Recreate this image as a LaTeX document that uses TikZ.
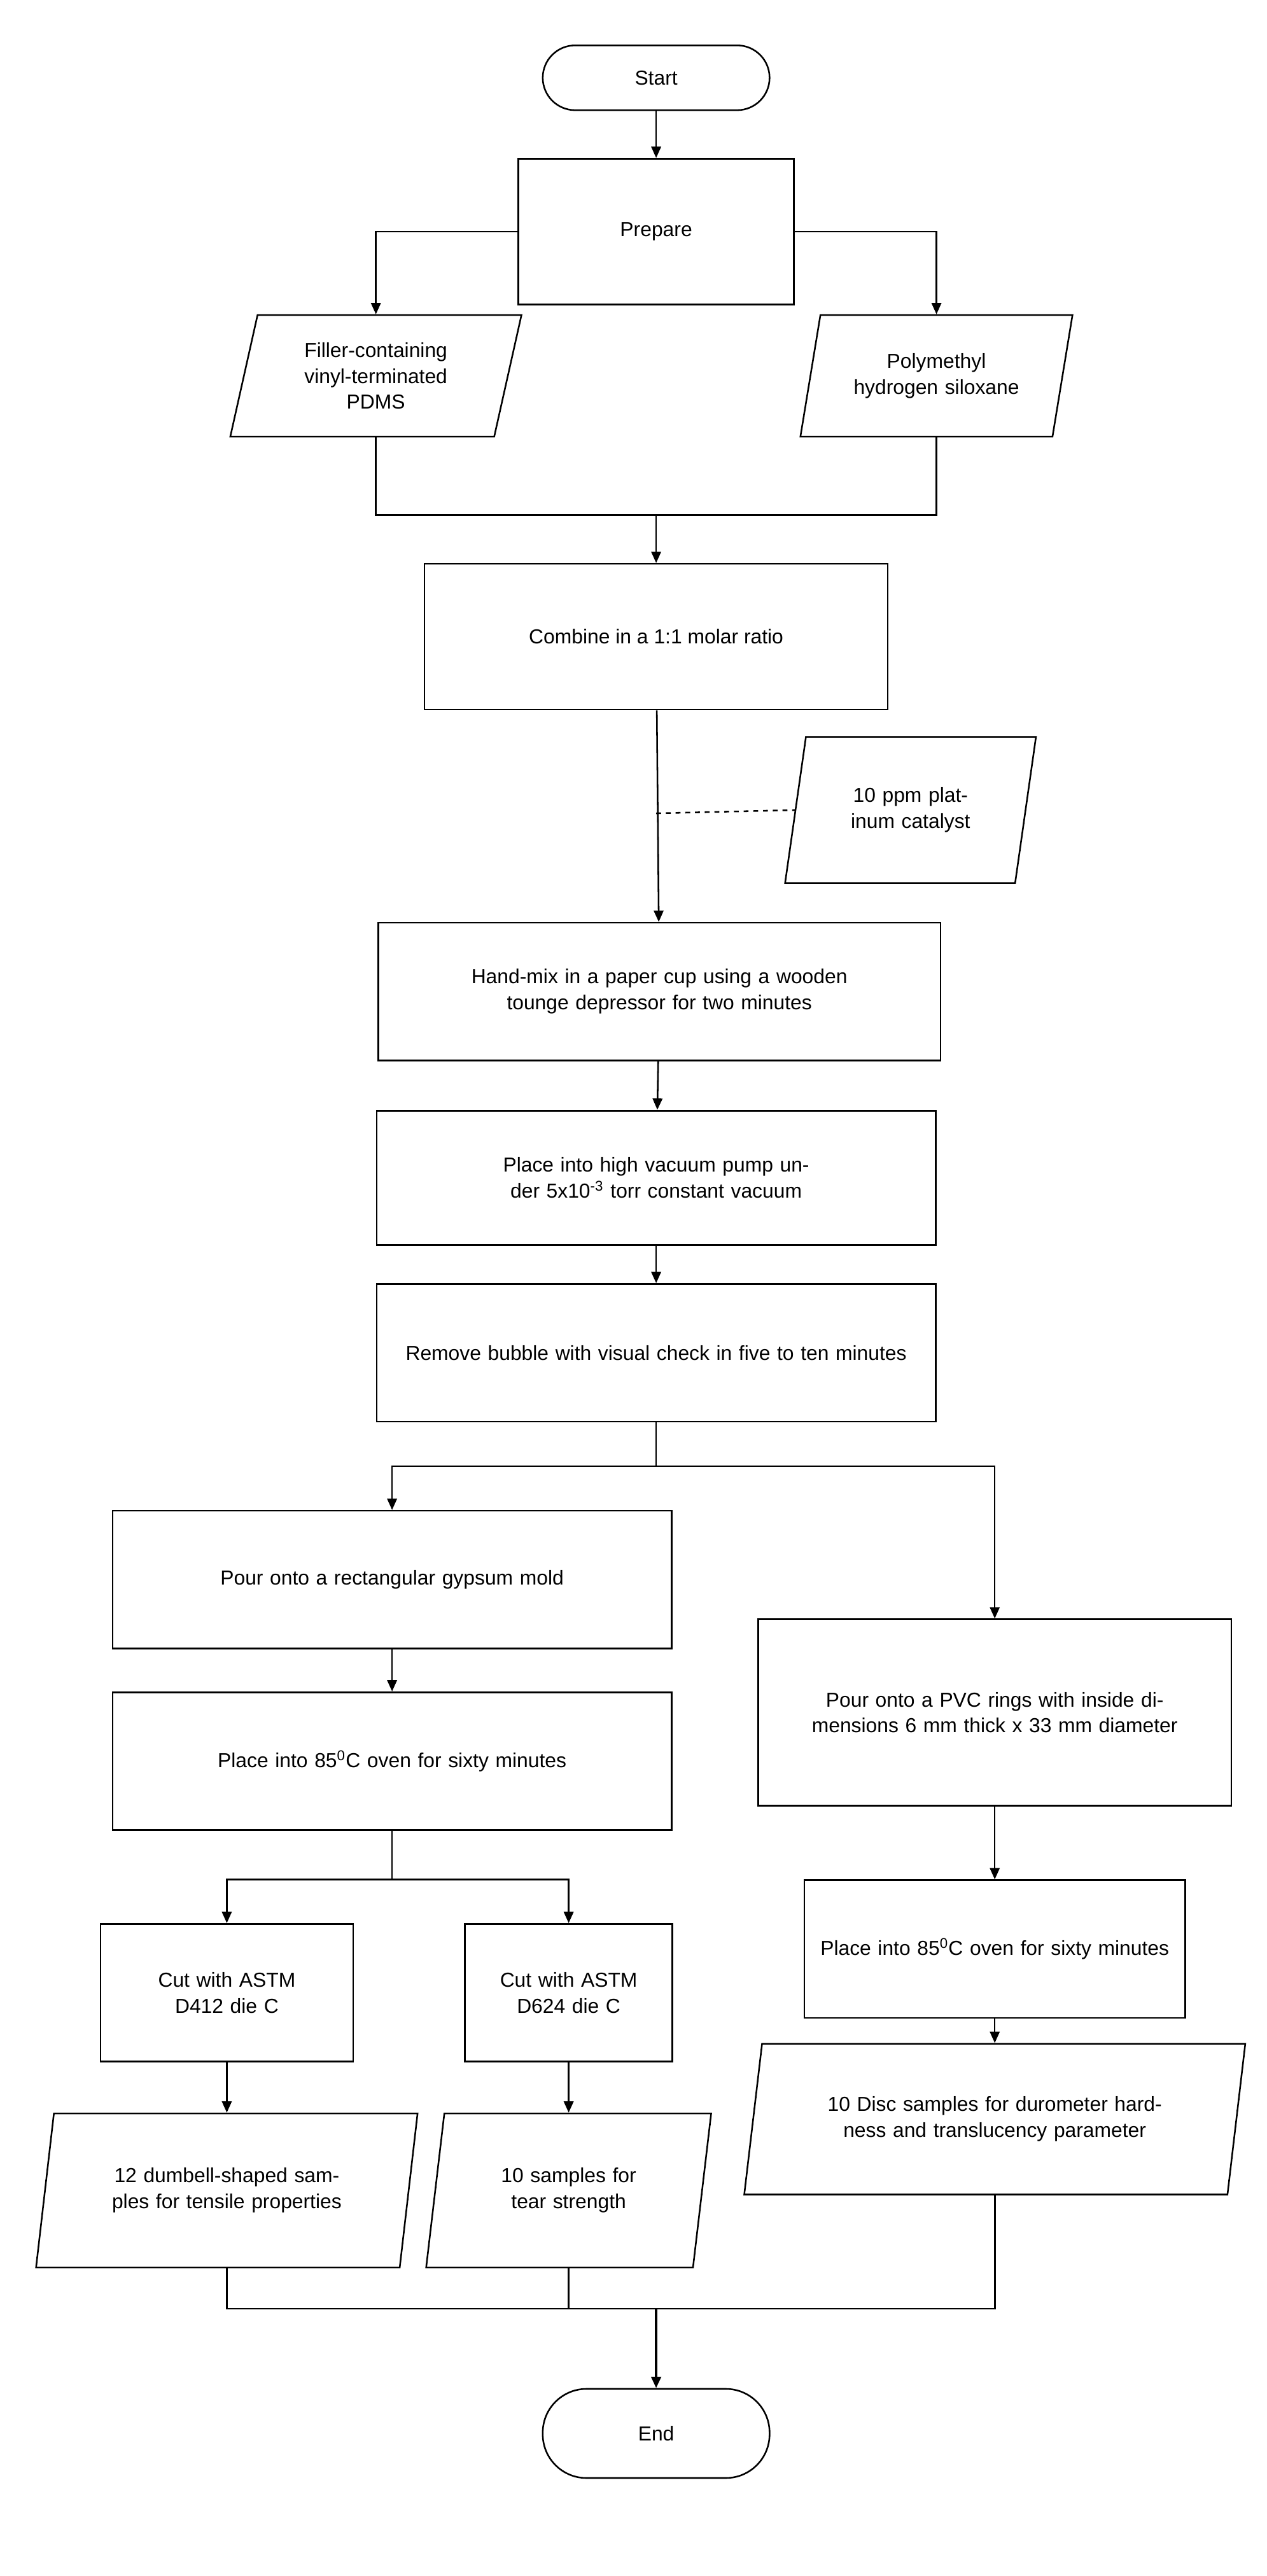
\documentclass[tikz,border=0pt]{standalone}
\usepackage{fontspec}
\setmainfont{Liberation Sans}
\usetikzlibrary{shapes.geometric,arrows.meta}
\begin{document}
\begin{tikzpicture}[x=1pt,y=-1pt,line width=1pt,
  every node/.style={font=\fontsize{12.5}{16}\selectfont,align=center},
  box/.style={draw,rectangle,inner sep=3pt},
  io/.style={draw,trapezium,trapezium left angle=72,trapezium right angle=108,trapezium stretches=true,inner sep=1pt},
  term/.style={draw,rounded rectangle,minimum width=140,minimum height=40},
  arr/.style={-{Triangle[length=7pt,width=6pt]}}]
\useasboundingbox (0,0) rectangle (782,1590);
\node[draw,rectangle,rounded corners=20pt,minimum width=140,minimum height=40] (start) at (405,48) {Start};
\node[box,minimum width=170,minimum height=90] (prep) at (405,143) {Prepare};
\node[io,minimum width=180,minimum height=75,text width=120] (fill) at (232,232) {Filler-containing vinyl-terminated PDMS};
\node[io,minimum width=168,minimum height=75,text width=110] (poly) at (578,232) {Polymethyl hydrogen siloxane};
\node[box,minimum width=286,minimum height=90] (comb) at (405,393) {Combine in a 1:1 molar ratio};
\node[io,minimum width=155,minimum height=90,text width=95] (cat) at (562,500) {10 ppm platinum catalyst};
\node[box,minimum width=347,minimum height=85,text width=335] (mix) at (407,612) {Hand-mix in a paper cup using a wooden tounge depressor for two minutes};
\node[box,minimum width=345,minimum height=83,text width=320] (vac) at (405,727) {Place into high vacuum pump under 5x10\textsuperscript{-3} torr constant vacuum};
\node[box,minimum width=345,minimum height=85,text width=320] (bub) at (405,835) {Remove bubble with visual check in five to ten minutes};
\node[box,minimum width=345,minimum height=85,text width=300] (gyp) at (242,975) {Pour onto a rectangular gypsum mold};
\node[box,minimum width=345,minimum height=85,text width=300] (ov1) at (242,1087) {Place into 85\textsuperscript{0}C oven for sixty minutes};
\node[box,minimum width=292,minimum height=115,text width=270] (pvc) at (614,1057) {Pour onto a PVC rings with inside dimensions 6 mm thick x 33 mm diameter};
\node[box,minimum width=235,minimum height=85,text width=220] (ov2) at (614,1203) {Place into 85\textsuperscript{0}C oven for sixty minutes};
\node[box,minimum width=156,minimum height=85,text width=140] (c1) at (140,1230) {Cut with ASTM D412 die C};
\node[box,minimum width=128,minimum height=85,text width=120] (c2) at (351,1230) {Cut with ASTM D624 die C};
\node[io,minimum width=236,minimum height=95,text width=185] (s1) at (140,1352) {12 dumbell-shaped samples for tensile properties};
\node[io,minimum width=176,minimum height=95,text width=130] (s2) at (351,1352) {10 samples for tear strength};
\node[io,minimum width=310,minimum height=93,text width=250] (s3) at (614,1308) {10 Disc samples for durometer hardness and translucency parameter};
\node[draw,rectangle,rounded corners=27pt,minimum width=140,minimum height=55] (end) at (405,1502) {End};
\coordinate (m1) at (405,318);
\coordinate (m2) at (405,905);
\coordinate (m3) at (242,1160);
\coordinate (m4) at (405,1425);
\draw[arr] (start) -- (prep);
\draw[arr] (prep.west) -| (fill.north);
\draw[arr] (prep.east) -| (poly.north);
\draw (fill.south) |- (m1) -| (poly.south);
\draw[arr] (m1) -- (comb);
\draw[arr] (comb) -- (mix);
\draw[dashed] (405,502) -- (cat.west);
\draw[arr] (mix) -- (vac);
\draw[arr] (vac) -- (bub);
\draw (bub) -- (m2);
\draw[arr] (m2) -| (gyp.north);
\draw[arr] (m2) -| (pvc.north);
\draw[arr] (gyp) -- (ov1);
\draw (ov1) -- (m3);
\draw[arr] (m3) -| (c1.north);
\draw[arr] (m3) -| (c2.north);
\draw[arr] (c1) -- (s1);
\draw[arr] (c2) -- (s2);
\draw[arr] (pvc) -- (ov2);
\draw[arr] (ov2) -- (s3);
\draw (s1.south) |- (m4) -| (s3.south);
\draw (s2.south) -- (s2.south |- m4);
\draw[arr,line width=1.5pt] (m4) -- (end);
\end{tikzpicture}
\end{document}
